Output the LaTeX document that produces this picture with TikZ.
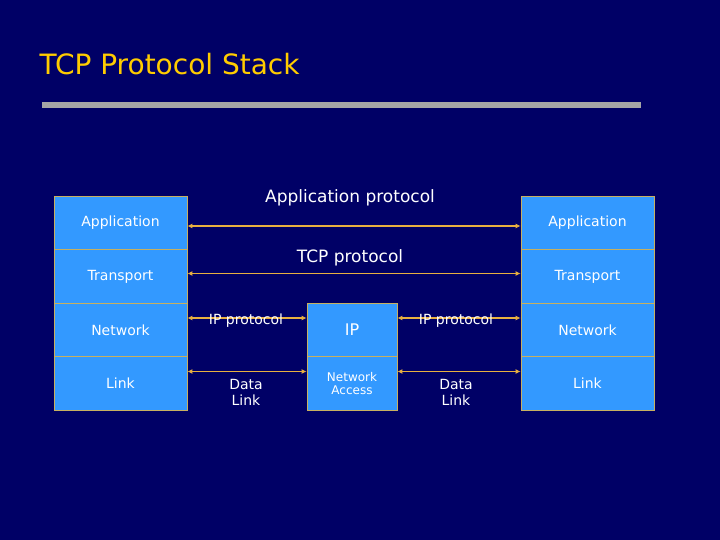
\documentclass[tikz,border=0pt]{standalone}
\usepackage{fontspec}
\setmainfont{DejaVu Sans}
\usetikzlibrary{arrows.meta}
\definecolor{bg}{HTML}{000066}
\definecolor{boxc}{HTML}{3399FF}
\definecolor{edge}{HTML}{C8B060}
\definecolor{arr}{HTML}{E8B040}
\definecolor{ttl}{HTML}{FFCC00}
\begin{document}
\begin{tikzpicture}[x=1pt,y=-1pt,
  cell/.style={draw=edge,fill=boxc,line width=0.8pt,minimum width=133pt,minimum height=53.5pt,inner sep=0pt,text=white,font=\fontsize{14}{16}\selectfont},
  mcell/.style={cell,minimum width=90pt},
  lab/.style={text=white,font=\fontsize{14}{16}\selectfont,align=center},
  conn/.style={arr,line width=1.6pt,{Latex[length=5pt,width=5pt]}-{Latex[length=5pt,width=5pt]}}]
\fill[bg] (0,0) rectangle (720,540);
\useasboundingbox (0,0) rectangle (720,540);
\node[anchor=west,text=ttl,font=\fontsize{28}{32}\selectfont] (title) at (36,64) {TCP Protocol Stack};
\fill[gray!70] (42,102) rectangle (641,108);
\foreach \n/\t/\y in {a/Application/223,t/Transport/276.5,n/Network/330,l/Link/383.5}{
  \node[cell] (L\n) at (120.5,\y) {\t};
  \node[cell] (R\n) at (587.5,\y) {\t};
}
\node[mcell,font=\fontsize{16}{18}\selectfont] (mip) at (352,330) {IP};
\node[mcell,align=center,font=\fontsize{12}{13}\selectfont] (mna) at (352,383.5) {Network\\Access};
\draw[conn] ([yshift=-3pt]La.east) -- ([yshift=-3pt]Ra.west);
\draw[conn] ([yshift=3pt]Lt.east) -- ([yshift=3pt]Rt.west);
\draw[conn] ([yshift=12pt]Ln.east) -- ([yshift=12pt]mip.west);
\draw[conn] ([yshift=12pt]mip.east) -- ([yshift=12pt]Rn.west);
\draw[conn] ([yshift=12pt]Ll.east) -- ([yshift=12pt]mna.west);
\draw[conn] ([yshift=12pt]mna.east) -- ([yshift=12pt]Rl.west);
\node[lab,font=\fontsize{17}{20}\selectfont] (ap) at (350,198) {Application protocol};
\node[lab,font=\fontsize{17}{20}\selectfont] (tp) at (350,258) {TCP protocol};
\node[lab] (ip1) at (246,321) {IP protocol};
\node[lab] (ip2) at (456,321) {IP protocol};
\node[lab] (dl1) at (246,392) {Data\\Link};
\node[lab] (dl2) at (456,392) {Data\\Link};
\end{tikzpicture}
\end{document}
